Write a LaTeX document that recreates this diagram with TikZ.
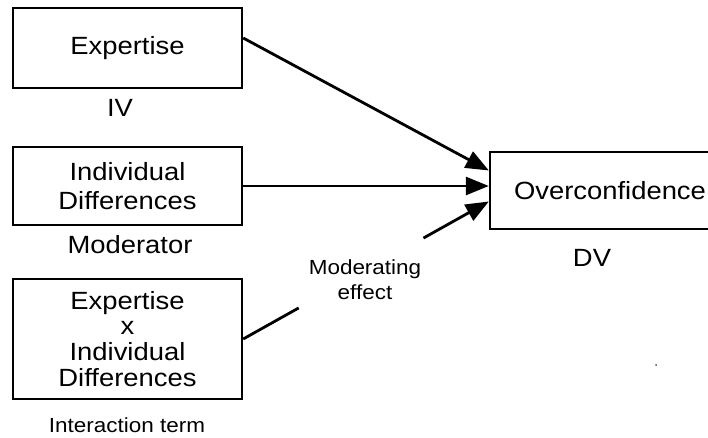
\documentclass[tikz,border=0pt]{standalone}
\usepackage{fontspec}
\setmainfont{Liberation Sans}[FakeStretch=1.1]
\usetikzlibrary{arrows.meta,calc}
\begin{document}
\begin{tikzpicture}[x=1bp,y=-1bp,
  varbox/.style={draw=black,line width=2.4bp,minimum width=229bp,inner sep=0pt,
    align=center,font=\fontsize{25}{29}\selectfont},
  biglabel/.style={font=\fontsize{25}{29}\selectfont,inner sep=0pt},
  smalllabel/.style={font=\fontsize{20.5}{25}\selectfont,inner sep=0pt,align=center},
  link/.style={line width=2.8bp,-{Triangle[length=23bp,width=18bp]}},
  plain/.style={line width=2.8bp}]
\useasboundingbox (0,0) rectangle (708,438);
\clip (0,0) rectangle (708,438);
% variable boxes
\node[varbox,minimum height=80bp] (ex) at (127.5,48) {Expertise};
\node[varbox,minimum height=78bp] (id) at (127.5,186) {Individual\\Differences};
\node[varbox,minimum height=120bp,font=\fontsize{25}{26}\selectfont] (ia) at (127.5,339)
  {Expertise\\x\\Individual\\Differences};
\node[varbox,minimum width=240bp,minimum height=77bp] (oc) at (610,190.5) {Overconfidence};
% role labels
\node[biglabel] (iv) at (120,108) {IV};
\node[biglabel] (mod) at (130,245) {Moderator};
\node[biglabel] (dv) at (592,258) {DV};
\node[smalllabel] (it) at (127,425) {Interaction term};
\node[smalllabel] (me) at (365,280) {Moderating\\effect};
% paths
\draw[link] ([yshift=10bp]ex.east) -- ([yshift=20bp]oc.west);
\draw[link] (id.east) -- (id.east -| oc.west);
\coordinate (mstart) at (ia.east);
\coordinate (mend) at ([yshift=-11bp]oc.west);
\draw[plain] (mstart) -- ($(mstart)!0.226!(mend)$);
\draw[link] ($(mstart)!0.734!(mend)$) -- (mend);
% small speck
\fill[black!70] (656,365) circle (1bp);
\end{tikzpicture}
\end{document}
